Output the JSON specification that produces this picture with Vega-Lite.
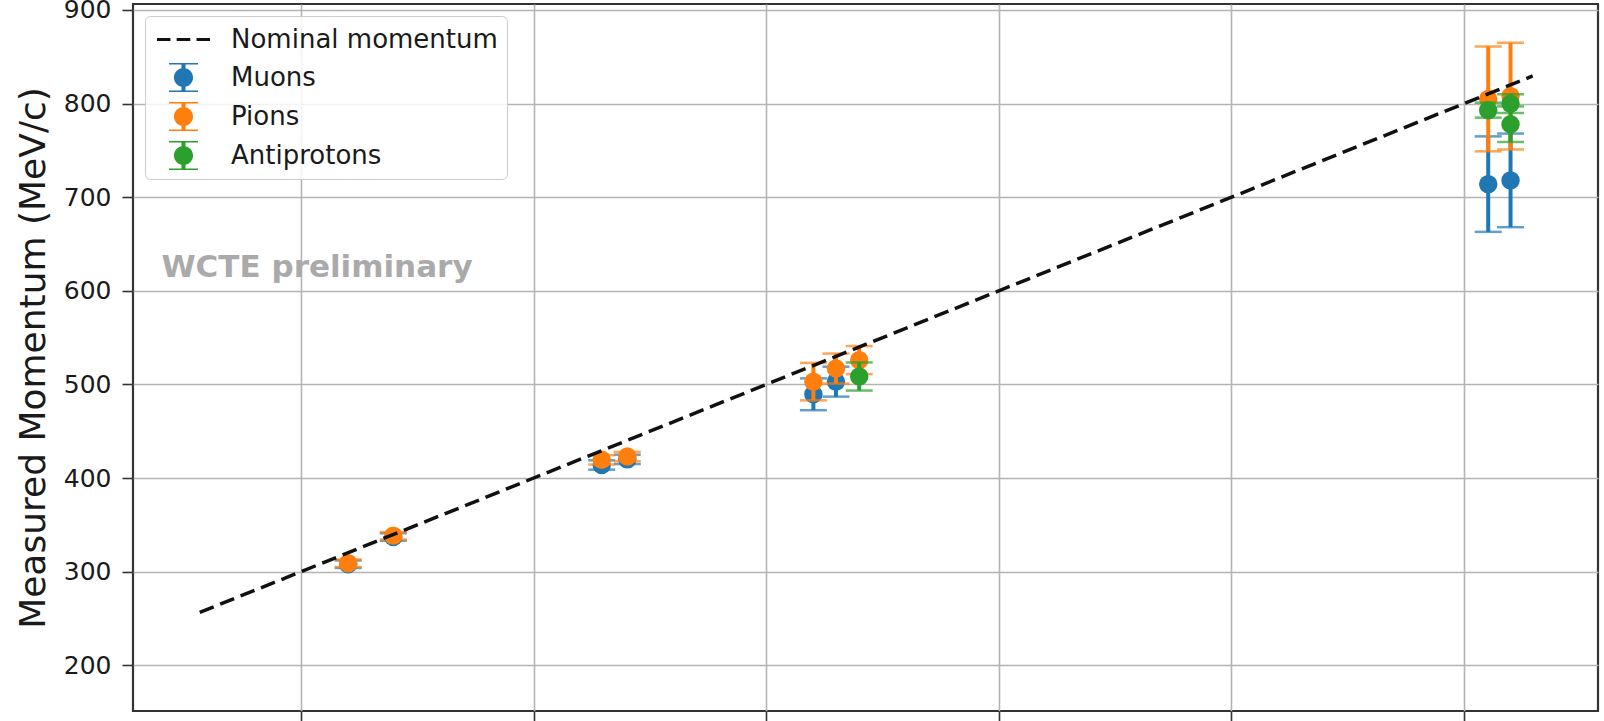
{
  "$schema": "https://vega.github.io/schema/vega-lite/v6.json",
  "width": 1465,
  "height": 707,
  "autosize": {"type": "none"},
  "padding": {"left": 133, "top": 4, "right": 6, "bottom": 10},
  "background": "white",
  "config": {
    "font": "DejaVu Sans",
    "view": {"stroke": "#333333", "strokeWidth": 2.2},
    "axis": {
      "domain": false,
      "grid": true,
      "gridColor": "#b4b4b4",
      "gridWidth": 1.6,
      "tickColor": "#333333",
      "tickWidth": 1.6,
      "tickSize": 11,
      "labelFont": "DejaVu Sans",
      "labelFontSize": 25,
      "labelColor": "#1a1a1a",
      "labelPadding": 11,
      "titleFont": "DejaVu Sans",
      "titleFontSize": 36,
      "titleFontWeight": "normal",
      "titleColor": "#1a1a1a"
    }
  },
  "datasets": {
    "pts": [
      {"particle": "Muons", "p": 320.3, "m": 308, "err": 4},
      {"particle": "Muons", "p": 339.7, "m": 337, "err": 4},
      {"particle": "Muons", "p": 429.3, "m": 414, "err": 5},
      {"particle": "Muons", "p": 440.3, "m": 420, "err": 5},
      {"particle": "Muons", "p": 520.3, "m": 489.5, "err": 17},
      {"particle": "Muons", "p": 530, "m": 503, "err": 16},
      {"particle": "Muons", "p": 810.4, "m": 714, "err": 51},
      {"particle": "Muons", "p": 820, "m": 718, "err": 50},
      {"particle": "Pions", "p": 320.3, "m": 309, "err": 4},
      {"particle": "Pions", "p": 339.7, "m": 338.5, "err": 4},
      {"particle": "Pions", "p": 429.3, "m": 419.5, "err": 5},
      {"particle": "Pions", "p": 440.3, "m": 423, "err": 5},
      {"particle": "Pions", "p": 520.3, "m": 503, "err": 20},
      {"particle": "Pions", "p": 530, "m": 517, "err": 16},
      {"particle": "Pions", "p": 540, "m": 526, "err": 15},
      {"particle": "Pions", "p": 810.4, "m": 805, "err": 56},
      {"particle": "Pions", "p": 820, "m": 808, "err": 57},
      {"particle": "Antiprotons", "p": 540, "m": 508.5, "err": 15},
      {"particle": "Antiprotons", "p": 810.4, "m": 793, "err": 8},
      {"particle": "Antiprotons", "p": 820, "m": 800, "err": 10},
      {"particle": "Antiprotons", "p": 820, "m": 778, "err": 19}
    ],
    "nominal": [
      {"p": 256.5, "m": 256.5},
      {"p": 829.5, "m": 829.5}
    ]
  },
  "layer": [
    {
      "data": {"name": "pts"},
      "transform": [{"filter": "datum.particle === 'Muons'"}],
      "mark": {"type": "errorbar", "thickness": 4, "ticks": {"size": 27, "thickness": 2.5}},
      "encoding": {
        "x": {
          "field": "p",
          "type": "quantitative",
          "title": null,
          "scale": {"domain": [227.8, 857.6], "nice": false, "zero": false},
          "axis": {"values": [300, 400, 500, 600, 700, 800], "labels": false, "title": null}
        },
        "y": {
          "field": "m",
          "type": "quantitative",
          "title": "Measured Momentum (MeV/c)",
          "scale": {"domain": [151.2, 906.4], "nice": false, "zero": false},
          "axis": {
            "values": [200, 300, 400, 500, 600, 700, 800, 900],
            "title": "Measured Momentum (MeV/c)",
            "titleX": -100,
            "titleY": 353.5,
            "titleAlign": "center",
            "titleBaseline": "middle",
            "titleAngle": 270
          }
        },
        "yError": {"field": "err"},
        "color": {
          "field": "particle",
          "type": "nominal",
          "scale": {
            "domain": ["Nominal momentum", "Muons", "Pions", "Antiprotons"],
            "range": ["#111111", "#1f77b4", "#ff7f0e", "#2ca02c"]
          },
          "legend": {
            "title": null,
            "orient": "top-left",
            "offset": 12,
            "padding": 9,
            "fillColor": "rgba(255,255,255,0.85)",
            "strokeColor": "#cccccc",
            "cornerRadius": 5,
            "labelFont": "DejaVu Sans",
            "labelFontSize": 26,
            "labelColor": "#1a1a1a",
            "labelLimit": 600,
            "labelOffset": 33,
            "rowPadding": 10,
            "symbolSize": 841,
            "symbolOffset": 15,
            "symbolStrokeWidth": 0,
            "encode": {
              "symbols": {
                "update": {
                  "shape": {"signal": "datum.value === 'Nominal momentum' ? 'M-1.83,-0.1H-0.9V0.1H-1.83Z M-0.47,-0.1H0.47V0.1H-0.47Z M0.9,-0.1H1.83V0.1H0.9Z' : 'M-0.66,0A0.66,0.66 0 1 1 0.66,0A0.66,0.66 0 1 1 -0.66,0Z M-0.14,-0.93H0.14V-0.4H-0.14Z M-0.14,0.4H0.14V0.93H-0.14Z M-1,-1H1V-0.9H-1Z M-1,0.9H1V1H-1Z'"},
                  "fill": {"scale": "color", "field": "value"},
                  "stroke": {"value": "transparent"},
                  "strokeWidth": {"value": 0},
                  "opacity": {"value": 1},
                  "size": {"value": 841}
                }
              }
            }
          }
        }
      }
    },
    {
      "data": {"name": "pts"},
      "transform": [{"filter": "datum.particle === 'Muons'"}],
      "mark": {"type": "point", "shape": "circle", "filled": true, "opacity": 1, "size": 340},
      "encoding": {
        "x": {"field": "p", "type": "quantitative", "title": null},
        "y": {"field": "m", "type": "quantitative", "title": "Measured Momentum (MeV/c)"},
        "color": {"field": "particle", "type": "nominal"}
      }
    },
    {
      "data": {"name": "pts"},
      "transform": [{"filter": "datum.particle === 'Pions'"}],
      "mark": {"type": "errorbar", "thickness": 4, "ticks": {"size": 27, "thickness": 2.5}},
      "encoding": {
        "x": {"field": "p", "type": "quantitative", "title": null},
        "y": {"field": "m", "type": "quantitative", "title": "Measured Momentum (MeV/c)"},
        "yError": {"field": "err"},
        "color": {"field": "particle", "type": "nominal"}
      }
    },
    {
      "data": {"name": "pts"},
      "transform": [{"filter": "datum.particle === 'Pions'"}],
      "mark": {"type": "point", "shape": "circle", "filled": true, "opacity": 1, "size": 340},
      "encoding": {
        "x": {"field": "p", "type": "quantitative", "title": null},
        "y": {"field": "m", "type": "quantitative", "title": "Measured Momentum (MeV/c)"},
        "color": {"field": "particle", "type": "nominal"}
      }
    },
    {
      "data": {"name": "pts"},
      "transform": [{"filter": "datum.particle === 'Antiprotons'"}],
      "mark": {"type": "errorbar", "thickness": 4, "ticks": {"size": 27, "thickness": 2.5}},
      "encoding": {
        "x": {"field": "p", "type": "quantitative", "title": null},
        "y": {"field": "m", "type": "quantitative", "title": "Measured Momentum (MeV/c)"},
        "yError": {"field": "err"},
        "color": {"field": "particle", "type": "nominal"}
      }
    },
    {
      "data": {"name": "pts"},
      "transform": [{"filter": "datum.particle === 'Antiprotons'"}],
      "mark": {"type": "point", "shape": "circle", "filled": true, "opacity": 1, "size": 340},
      "encoding": {
        "x": {"field": "p", "type": "quantitative", "title": null},
        "y": {"field": "m", "type": "quantitative", "title": "Measured Momentum (MeV/c)"},
        "color": {"field": "particle", "type": "nominal"}
      }
    },
    {
      "data": {"name": "nominal"},
      "mark": {"type": "line", "strokeWidth": 3.5, "strokeDash": [15, 7]},
      "encoding": {
        "x": {"field": "p", "type": "quantitative", "title": null},
        "y": {"field": "m", "type": "quantitative", "title": "Measured Momentum (MeV/c)"},
        "color": {"datum": "Nominal momentum"}
      }
    },
    {
      "data": {"values": [{"label": "WCTE preliminary"}]},
      "mark": {"type": "text", "font": "DejaVu Sans", "fontWeight": "bold", "fontSize": 31, "fill": "#aaaaaa", "align": "left", "baseline": "middle"},
      "encoding": {
        "x": {"datum": 240, "type": "quantitative", "title": null},
        "y": {"datum": 624, "type": "quantitative", "title": "Measured Momentum (MeV/c)"},
        "text": {"field": "label", "type": "nominal"}
      }
    }
  ]
}
